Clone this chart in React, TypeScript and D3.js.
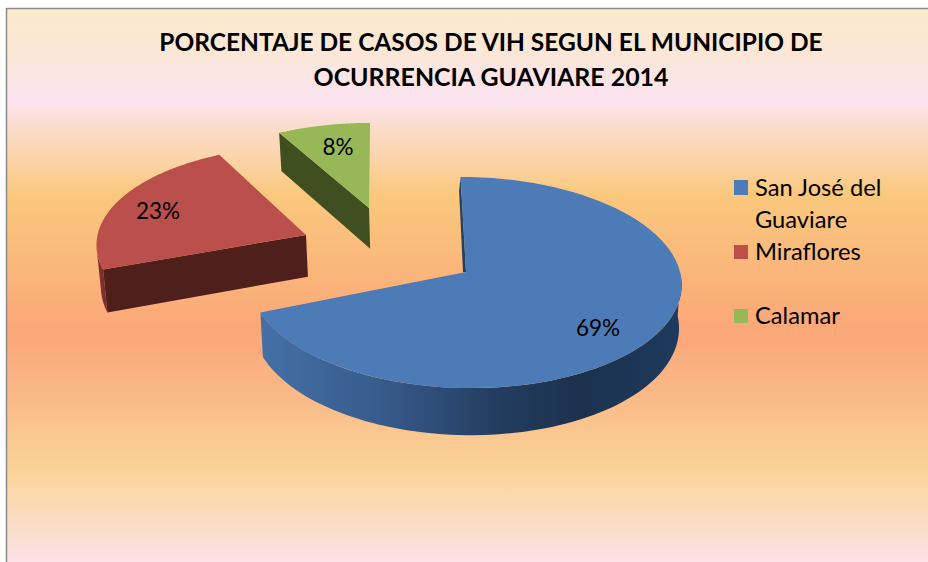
import React from "react";
import * as d3 from "d3";

const categories = ["San José del Guaviare", "Miraflores", "Calamar"];
const values = [69, 23, 8];
const labels = ["69%", "23%", "8%"];
const topColors = ["#4c7bb8", "#bb4f4c", "#98b858"];
const titleLines = ["PORCENTAJE DE CASOS DE VIH SEGUN EL MUNICIPIO DE", "OCURRENCIA GUAVIARE 2014"];

const W = 928, H = 562;
const RX = 218, RY = 104.5, P = 0.0995, VX = 465, VK = 0.988;

// placement of each (exploded) slice: apex and affine correction for the perspective
const placement = [
  { ax: 466, ay: 272, a: 0.985, b: -0.015, d: 0.015, c: 1 },
  { ax: 306, ay: 235, a: 0.948, b: -0.13, d: 0.029, c: 0.933 },
  { ax: 369, ay: 208, a: 0.938, b: -0.08, d: 0.0115, c: 0.895 },
];
const labelPos = [[598, 327], [158, 210], [338, 146]];

const pie = d3.pie<number>().sort(null).startAngle((-2 * Math.PI) / 180).endAngle((358 * Math.PI) / 180);
const arcs = pie(values);

type Pt = [number, number];
const project = (t: number, r: number, pl: typeof placement[0]): Pt => {
  const u = Math.sin(t) * r, v = -Math.cos(t) * r;
  const w = 1 - v * P;
  const x = (RX * u) / w, y = (RY * v) / w;
  return [pl.ax + pl.a * x + pl.b * y, pl.ay + pl.d * x + pl.c * y];
};
// the wall height grows slightly toward the viewer
const lower = ([x, y]: Pt): Pt => [VX + (x - VX) * VK, y + 44 + (y - 300) * 0.035];
const line = d3.line<Pt>();

const arcPts = (t0: number, t1: number, pl: typeof placement[0]) =>
  d3.range(0, 81).map((i) => project(t0 + ((t1 - t0) * i) / 80, 1, pl));

const bgStops: [number, string][] = [
  [9, "#fbeacb"], [50, "#fbe7d6"], [100, "#fce3f0"], [130, "#fbdcc9"], [165, "#fbd2a2"], [195, "#fac87c"],
  [250, "#fabb7c"], [325, "#fba878"], [345, "#fba97b"], [400, "#fabb88"], [445, "#f9cb92"], [475, "#fbd59c"],
  [530, "#fcddcc"], [562, "#fde2e8"],
];

export default function App() {
  const [, red, green] = arcs;
  const blue = arcs[0];
  const apexLow = (pl: typeof placement[0]) => lower([pl.ax, pl.ay]);

  // blue: outer wall, visible from its end (left) round to the right-hand extreme
  const blueOuter = arcPts(blue.endAngle, Math.PI / 2 - 0.02, placement[0]);
  const blueWall = [...blueOuter, ...blueOuter.map(lower).reverse()];
  // blue: sliver of the inner wall along the start edge
  const bluePl = placement[0];
  const startTop = project(blue.startAngle, 1, bluePl);
  const innerWall: Pt[] = [startTop, [bluePl.ax, bluePl.ay], [bluePl.ax - 3, bluePl.ay], [startTop[0] - 1.5, startTop[1] + 14]];

  // red: cut face + short outer wall
  const redPl = placement[1];
  const redEnd = project(red.startAngle, 1, redPl);
  const redFace: Pt[] = [[redPl.ax, redPl.ay], redEnd, lower(redEnd), apexLow(redPl)];
  const redOuterPts = arcPts(red.startAngle + 0.22, red.startAngle, redPl);
  const redOuter = [...redOuterPts, ...redOuterPts.map(lower).reverse()];

  // green: cut face
  const greenPl = placement[2];
  const greenCorner = project(green.startAngle, 1, greenPl);
  const greenFace: Pt[] = [[greenPl.ax, greenPl.ay], greenCorner, lower(greenCorner), apexLow(greenPl)];

  const top = (i: number) => [[placement[i].ax, placement[i].ay] as Pt, ...arcPts(arcs[i].startAngle, arcs[i].endAngle, placement[i])];

  return (
    <svg width={W} height={H} style={{ position: "absolute", left: 0, top: 0, display: "block" }} fontFamily="Lato, Carlito, sans-serif">
      <defs>
        <linearGradient id="bg" gradientUnits="userSpaceOnUse" x1="0" y1="9" x2="0" y2="562">
          {bgStops.map(([y, c]) => <stop key={y} offset={(y - 9) / (562 - 9)} stopColor={c} />)}
        </linearGradient>
        <linearGradient id="blueWall" gradientUnits="userSpaceOnUse" x1="262" y1="0" x2="683" y2="0">
          <stop offset="0" stopColor="#4470a6" />
          <stop offset="0.3" stopColor="#37598a" />
          <stop offset="0.55" stopColor="#233e60" />
          <stop offset="0.75" stopColor="#1c314e" />
          <stop offset="1" stopColor="#1e3a5e" />
        </linearGradient>
      </defs>
      <rect x={0} y={0} width={W} height={H} fill="#fff" />
      <rect x={7} y={9} width={W - 7} height={H - 9} fill="url(#bg)" />
      <path d={`M6.5,${H}V8.5H${W}`} fill="none" stroke="#8a8a8a" strokeWidth={1.5} />

      <g textAnchor="middle" fontWeight={700} fill="#000">
        <text x={491} y={51} fontSize={24.5}>{titleLines[0]}</text>
        <text x={491} y={86} fontSize={24.9}>{titleLines[1]}</text>
      </g>

      <path d={line(redOuter)! + "Z"} fill="#7e2f2c" />
      <path d={line(redFace)! + "Z"} fill="#4f1f1b" />
      <path d={line(top(1))! + "Z"} fill={topColors[1]} />

      <path d={line(greenFace)! + "Z"} fill="#3f4f1f" />
      <path d={line(top(2))! + "Z"} fill={topColors[2]} />

      <path d={line(innerWall)! + "Z"} fill="#26405f" />
      <path d={line(blueWall)! + "Z"} fill="url(#blueWall)" />
      <path d={line(top(0))! + "Z"} fill={topColors[0]} />

      <g fontSize={22.5} fill="#000" textAnchor="middle" dominantBaseline="central">
        {labels.map((l, i) => <text key={l} x={labelPos[i][0]} y={labelPos[i][1]}>{l}</text>)}
      </g>

      <g fontSize={23.7} fill="#000">
        <rect x={734} y={180} width={14} height={15} fill={topColors[0]} />
        <text x={755} y={196}>San José del</text>
        <text x={755} y={228}>Guaviare</text>
        <rect x={734} y={245} width={14} height={14} fill={topColors[1]} />
        <text x={755} y={260}>{categories[1]}</text>
        <rect x={734} y={309} width={14} height={14} fill={topColors[2]} />
        <text x={755} y={324}>{categories[2]}</text>
      </g>
    </svg>
  );
}
